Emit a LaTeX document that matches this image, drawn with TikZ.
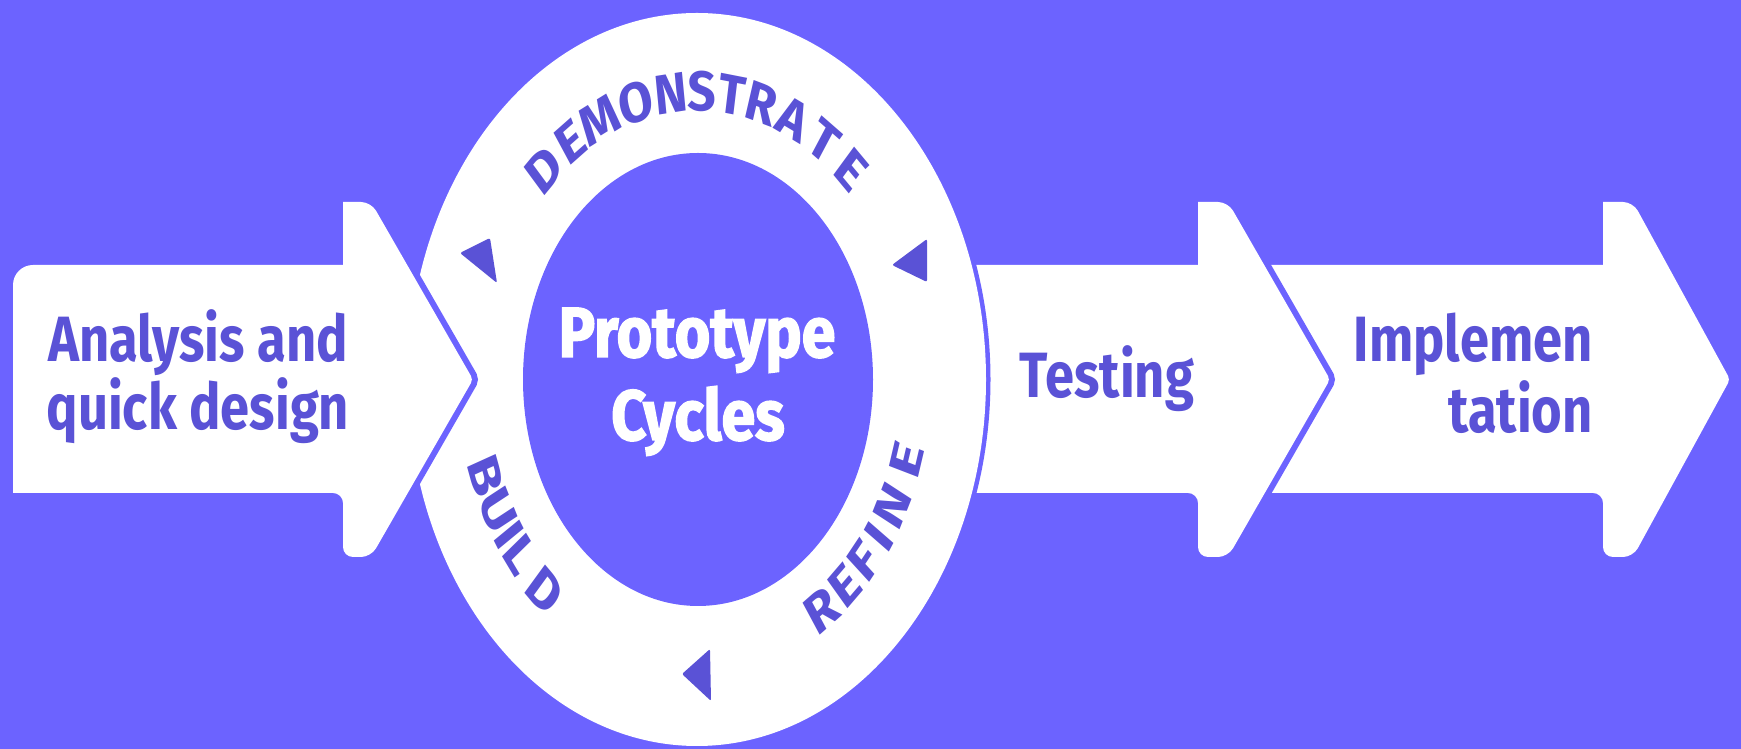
\documentclass[tikz,border=0pt]{standalone}
\usepackage{fontspec}
\newfontfamily\lblfont[FakeStretch=0.82]{Fira Sans}
\newfontfamily\protofont[FakeStretch=0.86,FakeBold=2]{Fira Sans}
\newfontfamily\ringfont[FakeStretch=1.14]{Fira Sans}
\definecolor{bg}{HTML}{6C63FF}
\definecolor{ink}{HTML}{5A52D6}
\tikzset{
  lbl/.style={inner sep=0pt, text=ink, font=\lblfont\bfseries\fontsize{64}{70}\selectfont},
  proto/.style={inner sep=0pt, text=white, font=\protofont\bfseries\fontsize{71}{84}\selectfont},
  ringtxt/.style={inner sep=0pt, text=ink, transform shape, font=\ringfont\bfseries\fontsize{56}{60}\selectfont},
  whitearrow/.style={fill=white, preaction={draw=bg, line width=12pt}},
  marker/.style={fill=ink, rounded corners=2pt},
}
\begin{document}
\begin{tikzpicture}[x=1pt,y=1pt]
\fill[bg] (0,0) rectangle (1741,749);
\useasboundingbox (0,0) rectangle (1741,749);

% Implementation arrow
\path[whitearrow] (1150,484) -- (1603,484) -- (1603,547) [rounded corners=10pt] -- (1633,547) [rounded corners=4pt] -- (1730,369.5) [rounded corners=10pt] -- (1633,192) -- (1603,192) -- (1603,256) [sharp corners] -- (1150,256) -- cycle;

% Testing arrow
\path[whitearrow] (950,484) -- (1198,484) -- (1198,547) [rounded corners=10pt] -- (1228,547) [rounded corners=4pt] -- (1330,369.5) [rounded corners=10pt] -- (1228,192) -- (1198,192) -- (1198,256) [sharp corners] -- (950,256) -- cycle;

% ring
\path[fill=white, preaction={draw=bg, line width=9pt}] (697,369.5) ellipse [x radius=289pt, y radius=366.5pt];
\fill[bg] (698,369.5) ellipse [x radius=175pt, y radius=226.5pt];

% left arrow
\path[whitearrow] (200,484) -- (343,484) -- (343,547) [rounded corners=10pt] -- (371,547) [rounded corners=4pt] -- (473,369.5) [rounded corners=10pt] -- (371,192) -- (343,192) -- (343,256) [sharp corners] -- (13,256) [rounded corners=20pt] -- (13,484) -- cycle;

% markers
\path[marker] (460,496) -- (490,511) -- (497,466) -- cycle;
\path[marker] (892,484) -- (927,510) -- (927,467) -- cycle;
\path[marker] (682,75) -- (710,100) -- (711,48) -- cycle;

% labels
\node[lbl, anchor=base] (an1) at (198,387) {Analysis and};
\node[lbl, anchor=base] (an2) at (198,319) {quick design};
\node[lbl, anchor=base] (tst) at (1107,351) {Testing};
\node[lbl, anchor=base east] (im1) at (1593,387) {Implemen};
\node[lbl, anchor=base east] (im2) at (1593,316) {tation};
\node[proto, anchor=base] (pr1) at (697,392) {Prototype};
\node[proto, anchor=base] (pr2) at (698,309) {Cycles};

% ring text
\begin{scope}[shift={(698,369.5)}, xscale=0.78]
\foreach \l/\a [count=\i] in {D/133.3, E/124.6, M/115.9, O/106.1, N/97, S/89, T/81.3, R/73.6, A/65, T/55.8, E/46.8}
  \node[ringtxt, rotate=\a-90] (dem\i) at (\a:288) {\l};
\foreach \l/\a [count=\i] in {B/199.5, U/207.1, I/212.7, L/217.5, D/227}
  \node[ringtxt, rotate=\a+90] (bld\i) at (\a:288) {\l};
\foreach \l/\a [count=\i] in {R/304.5, E/312.4, F/319.5, I/325.8, N/333.1, E/343.3}
  \node[ringtxt, rotate=\a+90] (ref\i) at (\a:280) {\l};
\end{scope}
\end{tikzpicture}
\end{document}
